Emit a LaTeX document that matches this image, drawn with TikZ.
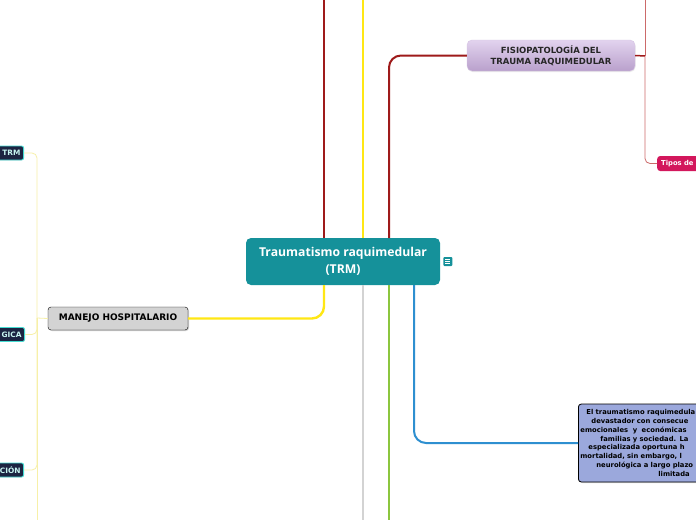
\documentclass[tikz,border=0pt]{standalone}
\usepackage{fontspec}
\setmainfont{DejaVu Sans}
\newfontfamily\titlefont{Open Sans}
\usetikzlibrary{positioning,shadows}

\definecolor{teal0}{HTML}{15919A}
\definecolor{darkred0}{HTML}{9E1A1A}
\definecolor{lightred0}{HTML}{CC6A6A}
\definecolor{yellow0}{HTML}{FFE714}
\definecolor{paleyellow0}{HTML}{F7F0A8}
\definecolor{gray0}{HTML}{D3D3D3}
\definecolor{green0}{HTML}{8CC63F}
\definecolor{blue0}{HTML}{2E8FD0}
\definecolor{lilactop}{HTML}{E2D3EE}
\definecolor{lilacbot}{HTML}{B9A0CC}
\definecolor{crimson0}{HTML}{D3175C}
\definecolor{navy0}{HTML}{1C2442}
\definecolor{cyan0}{HTML}{45DCD2}
\definecolor{periwinkle0}{HTML}{9BA8DC}

\begin{document}
\begin{tikzpicture}[x=1pt,y=-1pt,
  central/.style={rounded corners=5pt,fill=teal0,text=white,align=center,font=\titlefont\bfseries\fontsize{12.2}{16.5}\selectfont,minimum width=194pt,minimum height=47pt},
  topic/.style={rounded corners=5pt,top color=lilactop,bottom color=lilacbot,draw=lilactop!70!lilacbot,align=center,font=\bfseries\fontsize{8.5}{11}\selectfont,text=black!85,minimum width=168pt,minimum height=31pt,drop shadow={opacity=0.15,shadow xshift=0.5pt,shadow yshift=-1pt}},
  grey box/.style={rounded corners=3pt,draw=black,fill=gray0,font=\bfseries\fontsize{9}{10}\selectfont,minimum width=140pt,minimum height=23pt,drop shadow={opacity=0.35,shadow xshift=1pt,shadow yshift=-1pt}},
  dark box/.style={rounded corners=2pt,draw=cyan0,line width=0.9pt,fill=navy0,text=cyan0!30!white,font=\bfseries\fontsize{7.4}{8}\selectfont,text width=60pt,align=right,inner xsep=3pt,minimum height=14pt,anchor=east},
  pink box/.style={rounded corners=3pt,fill=crimson0,text=white,font=\bfseries\fontsize{6.8}{8}\selectfont,text width=70pt,align=left,inner xsep=4pt,minimum height=15pt,anchor=west},
  note box/.style={rounded corners=3pt,draw=black,line width=0.8pt,fill=periwinkle0,font=\bfseries\fontsize{6.8}{8.8}\selectfont,text width=150pt,align=left,inner xsep=2pt,minimum height=78pt,anchor=west,drop shadow={opacity=0.3,shadow xshift=1pt,shadow yshift=-1pt}},
  branch/.style={line width=2.4pt,rounded corners=12pt},
  twig/.style={line width=0.8pt,rounded corners=5pt}]
\clip (0,0) rectangle (696,520);
\fill[white] (0,0) rectangle (696,520);

% central topic
\node[central] (trm) at (343,261.5) {Traumatismo raquimedular\\(TRM)};
\node[rounded corners=1pt,fill=teal0,minimum size=9pt,inner sep=0pt,right=3pt of trm] (note) {};
\foreach \dy in {-2,0,2} \draw[white,line width=0.7pt] ([xshift=-2.5pt,yshift=\dy pt]note.center) -- ([xshift=2.5pt,yshift=\dy pt]note.center);

% main topics
\node[topic] (fisio) at (551,55.5) {FISIOPATOLOGÍA DEL\\TRAUMA RAQUIMEDULAR};
\node[pink box] (tipos) at (657,163.5) {Tipos de};
\node[grey box] (manejo) at (118,318.5) {MANEJO HOSPITALARIO};
\node[note box] (intro) at (578,443) {\hspace*{6pt}El traumatismo raquimedula\\
\hspace*{11pt}devastador con consecue\\
emocionales\ \ y\ \ económicas\\
\hspace*{20pt}familias y sociedad. La\\
\hspace*{8pt}especializada oportuna h\\
mortalidad, sin embargo, l\\
\hspace*{16pt}neurológica a largo plazo\\
\hspace*{78pt}limitada};

% subtopics on the left
\node[dark box] (clasif) at (24,153) {TRM};
\node[dark box] (gica) at (25,334.5) {GICA};
\node[dark box] (cion) at (24,470) {CIÓN};

% coordinates for the trunks
\coordinate (c1) at (324,0);
\coordinate (c2) at (363,0);
\coordinate (c4) at (389,520);
\coordinate (c3) at (363,520);
\coordinate (tr) at (645,56);
\coordinate (lt) at (37,318);

% connectors
\draw[branch,darkred0] (trm.north -| c1) -- (c1);
\draw[branch,yellow0] (trm.north -| c2) -- (c2);
\draw[branch,darkred0,line width=2pt] (389,238) |- (fisio.west);
\draw[branch,yellow0] (324,285) |- (manejo.east);
\draw[branch,gray0] (trm.south -| c3) -- (c3);
\draw[branch,green0] (trm.south -| c4) -- (c4);
\draw[branch,blue0,line width=2pt] (414,285) |- (intro.west);
\draw[darkred0,line width=1.5pt] (fisio.east) -- (tr);
\draw[twig,lightred0] (tr) -- (645,0);
\draw[twig,lightred0] (tr) |- (tipos.west);
\draw[twig,paleyellow0] (manejo.west) -- (lt);
\draw[twig,paleyellow0] (lt) |- (clasif.east);
\draw[twig,paleyellow0] (lt) |- (gica.east);
\draw[twig,paleyellow0] (lt) |- (cion.east);
\draw[twig,paleyellow0] (lt) -- (37,520);
\end{tikzpicture}
\end{document}
